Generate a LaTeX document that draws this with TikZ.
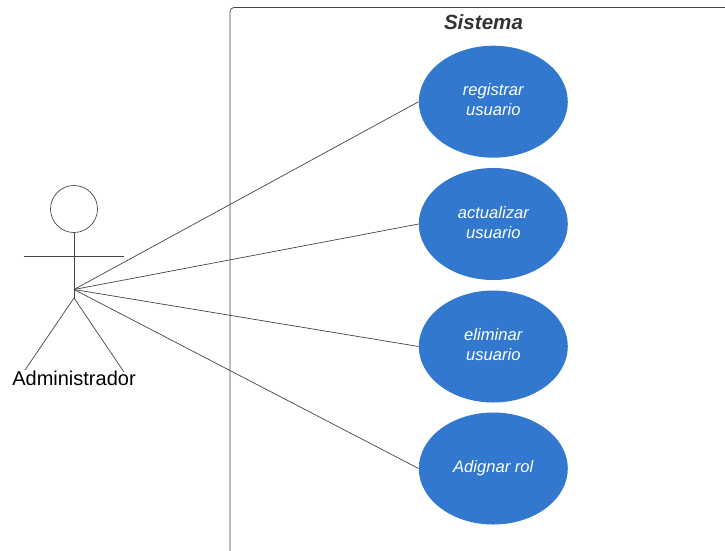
\documentclass[tikz,border=0pt]{standalone}
\usepackage{fontspec}
\setmainfont{Liberation Sans}
\usetikzlibrary{shapes.geometric}
\definecolor{ucblue}{HTML}{3178CE}
\definecolor{linegray}{HTML}{444444}
\tikzset{
  usecase/.style={ellipse,fill=ucblue,draw=none,minimum width=149pt,minimum height=112pt,inner sep=0pt,align=center,text=white,font=\fontsize{16.6}{20}\selectfont\itshape,execute at end node={\rule[-#1]{0pt}{#1}}},
  line/.style={draw=linegray,line width=0.7pt},
  actor/.style={draw=linegray,line width=0.7pt},
}
\begin{document}
\begin{tikzpicture}[x=1pt,y=-1pt]
\useasboundingbox (0,0) rectangle (725,550);
\draw[line,rounded corners=4pt] (230,560) -- (230,7.5) -- (740,7.5);
\node[font=\fontsize{20.6}{24}\selectfont\bfseries\itshape,text=black!80] (title) at (483.5,22.5) {Sistema};
\node[usecase=4pt] (u1) at (493.3,101.7) {registrar\\usuario};
\node[usecase=4pt] (u2) at (493.3,224) {actualizar\\usuario};
\node[usecase=4pt] (u3) at (493.3,346.5) {eliminar\\usuario};
\node[usecase=4.5pt] (u4) at (493.3,468.5) {Adignar rol};
\node[circle,actor,minimum size=47pt,inner sep=0pt] (head) at (74,209) {};
\coordinate (hub) at (74,289.5);
\coordinate (crotch) at (74,298);
\coordinate (armL) at (23.5,256);
\coordinate (armR) at (124,256);
\coordinate (legL) at (25,370);
\coordinate (legR) at (124,372);
\draw[actor] (head.south) -- (crotch);
\draw[actor] (armL) -- (armR);
\draw[actor] (crotch) -- (legL);
\draw[actor] (crotch) -- (legR);
\node[font=\fontsize{20}{24}\selectfont,text=black] (name) at (74,378.5) {Administrador};
\foreach \u in {u1,u2,u3,u4} \draw[line] (hub) -- (\u.west);
\end{tikzpicture}
\end{document}
